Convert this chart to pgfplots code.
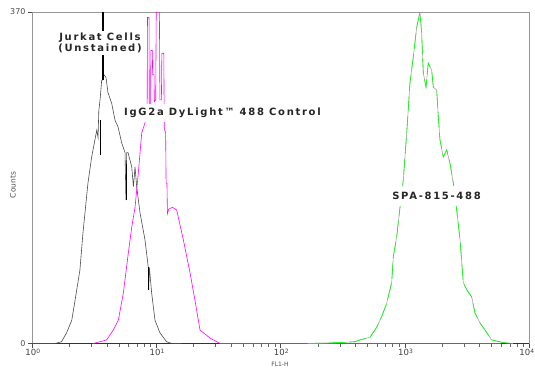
\documentclass[border=0pt]{standalone}
\usepackage{pgfplots}
\pgfplotsset{compat=1.18}
\usepackage{fontspec}
\setmainfont{DejaVu Sans}
\newfontfamily\lbl[LetterSpace=17]{DejaVu Sans}
\definecolor{mag}{RGB}{255,0,255}
\definecolor{grn}{RGB}{0,255,0}
\definecolor{axgray}{RGB}{150,150,150}
\begin{document}
\begin{tikzpicture}
\useasboundingbox (0,0) rectangle (535pt,367pt);
\clip (0,0) rectangle (535pt,367pt);
\begin{axis}[
  at={(32pt,23.5pt)}, anchor=south west,
  scale only axis, width=497pt, height=331.5pt,
  xmode=log, xmin=1, xmax=10000, ymin=0, ymax=370,
  axis line style={axgray, line width=0.8pt},
  xtick={1,10,100,1000,10000},
  xticklabels={10\textsuperscript{0},10\textsuperscript{1},10\textsuperscript{2},10\textsuperscript{3},\hspace*{-6pt}10\textsuperscript{4}},
  ytick={0,370}, yticklabels={0,370},
  tick align=outside, xtick pos=bottom, ytick pos=left,
  major tick length=4pt, minor tick length=3.5pt,
  tick style={black!70, line width=0.5pt},
  minor tick style={black!60},
  xticklabel style={font=\fontsize{8.5}{9}\selectfont, text=black!75, inner sep=1pt, yshift=0pt, xshift=1pt},
  yticklabel style={font=\fontsize{8}{9}\selectfont, text=black!70, xshift=1pt},
  clip=true,
]
\draw[black!80, line width=0.9pt] (rel axis cs:0,0) -- (rel axis cs:1,0);
% Jurkat unstained (black)
\addplot[black!70, line width=0.6pt] coordinates {
(1,0) (1.53,0) (1.73,2) (1.90,12) (2.09,26) (2.22,48) (2.43,82) (2.57,123) (2.82,179) (3.02,208) (3.32,238) (3.40,230) (3.45,260) (3.53,272) (3.64,294)
(3.70,294) (3.71,370) (3.76,370) (3.77,300) (3.80,300) (3.94,297) (4.09,280) (4.38,268) (4.66,249) (4.92,242) (5.27,224) (5.61,213) (5.70,160) (5.78,213) (5.93,213) (6.35,197) (6.55,175) (6.75,197) (6.96,175) (7.40,146) (8.11,116) (8.63,85) (8.70,60) (8.8,85) (9.19,56) (9.77,26) (10.7,12) (12.1,2) (13.4,0) (16,0)
};
% thick black spikes
\addplot[black, line width=1.3pt] coordinates {(3.735,294) (3.735,370)};
\addplot[black, line width=1.1pt] coordinates {(3.55,210) (3.55,250)};
\addplot[black, line width=1.1pt] coordinates {(5.72,160) (5.72,200)};
\addplot[black, line width=1.1pt] coordinates {(8.72,60) (8.72,85)};
% IgG2a control (magenta)
\addplot[mag, line width=0.6pt] coordinates {
(3.11,0) (3.99,4) (4.51,15) (4.95,26) (5.43,56) (5.96,101) (6.35,130) (6.75,152) (7.17,190) (7.64,235) (8.11,246) (8.45,260) (8.5,364) (8.75,364) (8.8,250) (9.0,250) (9.05,327) (9.3,327) (9.35,300) (9.6,300) (9.65,270) (9.9,272) (10.0,370) (10.6,370) (10.7,272) (11.0,272) (11.1,324) (11.5,324) (11.6,240) (11.9,235) (12.0,179) (12.2,179) (12.3,145) (12.6,150) (13.5,152) (14.6,149) (16.5,116) (18.7,79) (20.5,48) (22.5,15) (27.1,6) (32.6,0) (6000,0)
};
% SPA-815-488 (grey underlay + green)
\addplot[black!35, line width=0.6pt] coordinates {
(166,0) (300,1) (398,2) (436,4) (525,7) (594,18) (652,30) (716,45) (785,68) (809,97) (861,119) (916,152) (973,182) (1037,235) (1102,291) (1172,320) (1248,353) (1326,370) (1368,346) (1410,302) (1483,286) (1546,313) (1647,305) (1698,286) (1807,283) (1862,253) (1922,227) (2043,208) (2176,216) (2313,201) (2459,179) (2618,149) (2784,116) (2959,68) (3152,60) (3456,52) (3675,34) (4033,23) (4424,15) (5012,4) (6209,1) (7430,0)
};
\addplot[grn, line width=0.6pt, dash pattern=on 16pt off 5pt] coordinates {
(166,0) (300,1) (398,2) (436,4) (525,7) (594,18) (652,30) (716,45) (785,68) (809,97) (861,119) (916,152) (973,182) (1037,235) (1102,291) (1172,320) (1248,353) (1326,370) (1368,346) (1410,302) (1483,286) (1546,313) (1647,305) (1698,286) (1807,283) (1862,253) (1922,227) (2043,208) (2176,216) (2313,201) (2459,179) (2618,149) (2784,116) (2959,68) (3152,60) (3456,52) (3675,34) (4033,23) (4424,15) (5012,4) (6209,1) (7430,0)
};
\end{axis}
\node[rotate=90, font=\fontsize{7.5}{9}\selectfont, text=black!70] at (13pt,182pt) {Counts};
\node[anchor=base, inner sep=0pt, font=\fontsize{6}{7}\selectfont, text=black!70] at (280pt,1pt) {FL1-H};
\node[fill=white, align=center, inner xsep=1pt, inner ysep=2.5pt, font=\lbl\bfseries\fontsize{10}{10.5}\selectfont, text=black!85] at (100pt,324pt) {Jurkat Cells\\(Unstained)};
\node[fill=white, anchor=west, inner xsep=1pt, inner ysep=4pt, font=\lbl\bfseries\fontsize{10}{10.5}\selectfont, text=black!85] at (123pt,254pt) {IgG2a DyLight™ 488 Control};
\node[fill=white, inner xsep=1pt, inner ysep=6pt, font=\lbl\bfseries\fontsize{10}{10.5}\selectfont, text=black!85] at (436.5pt,171pt) {SPA-815-488};
\end{tikzpicture}
\end{document}
